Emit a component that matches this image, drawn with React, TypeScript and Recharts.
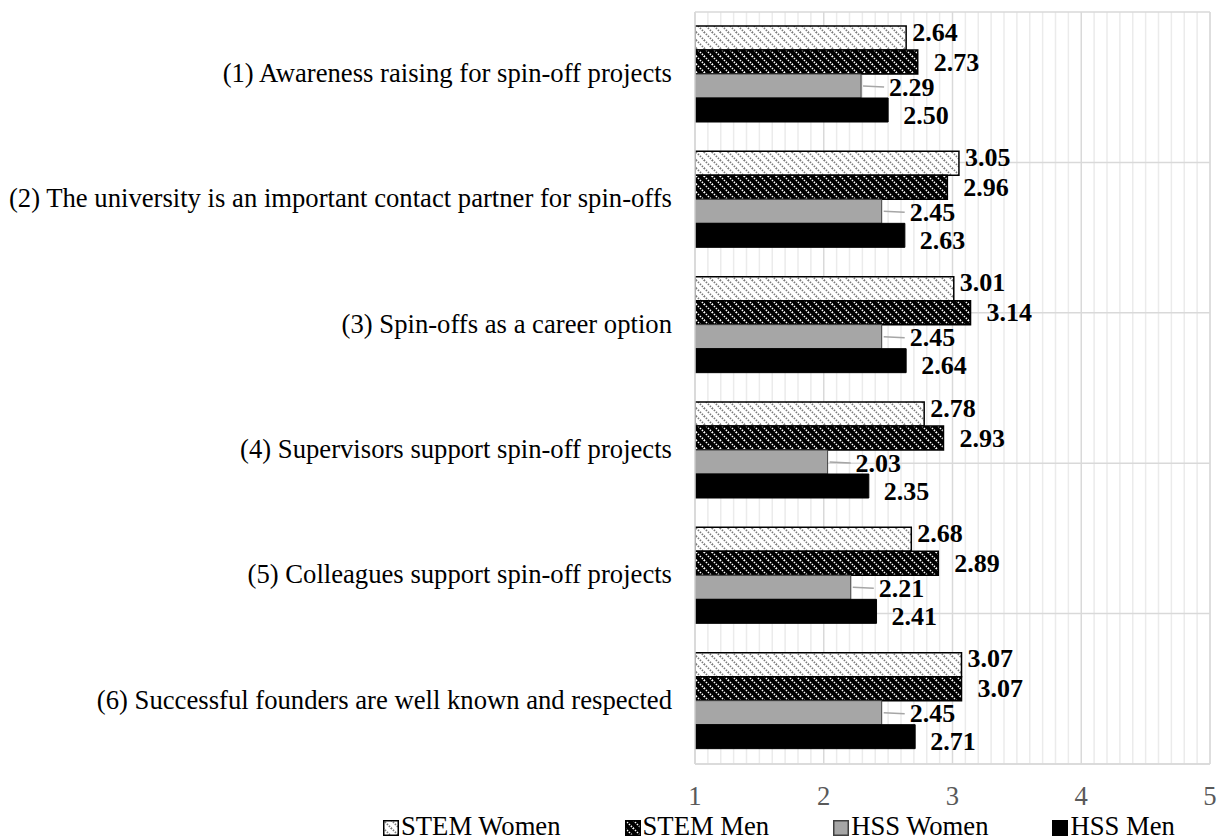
import React from "react";
import { BarChart, Bar, XAxis, YAxis, CartesianGrid, LabelList, Legend } from "recharts";

const categories = [
  "(1) Awareness raising for spin-off projects",
  "(2) The university is an important contact partner for spin-offs",
  "(3) Spin-offs as a career option",
  "(4) Supervisors support spin-off projects",
  "(5) Colleagues support spin-off projects",
  "(6) Successful founders are well known and respected",
];
const stemWomen = [2.64, 3.05, 3.01, 2.78, 2.68, 3.07];
const stemMen = [2.73, 2.96, 3.14, 2.93, 2.89, 3.07];
const hssWomen = [2.29, 2.45, 2.45, 2.03, 2.21, 2.45];
const hssMen = [2.5, 2.63, 2.64, 2.35, 2.41, 2.71];
const seriesNames = ["STEM Women", "STEM Men", "HSS Women", "HSS Men"];
const xTicks = [1, 2, 3, 4, 5];
const minorTicks: number[] = [];
for (let i = 10; i <= 50; i++) if (i % 10 !== 0) minorTicks.push(i / 10);
const bandTicks = [0, 1, 2, 3, 4, 5, 6];

const data = categories.map((name, i) => ({
  name,
  stemWomen: stemWomen[i],
  stemMen: stemMen[i],
  hssWomen: hssWomen[i],
  hssMen: hssMen[i],
}));

const FONT = "'Liberation Serif', 'Times New Roman', Tinos, serif";

const seriesStyles = [
  { key: "stemWomen", fill: "url(#patStemW)", stroke: "#000", sw: 1.5, dx: 6, dy: -6, leader: false },
  { key: "stemMen", fill: "url(#patStemM)", stroke: "#000", sw: 1.5, dx: 16, dy: 0, leader: false },
  { key: "hssWomen", fill: "#a6a6a6", stroke: "#404040", sw: 1, dx: 28, dy: 1, leader: true },
  { key: "hssMen", fill: "#000", stroke: "#000", sw: 1, dx: 15, dy: 5, leader: false },
];

const makeLabel = (dx: number, dy: number, leader: boolean) => (props: any) => {
  const { x, y, width, height, value } = props;
  const endX = Number(x) + Number(width);
  const cy = Number(y) + Number(height) / 2;
  const tx = endX + dx;
  return (
    <g>
      {leader && (
        <line x1={endX + 2} y1={cy} x2={tx - 5} y2={cy + dy} stroke="#a6a6a6" strokeWidth={1.5} />
      )}
      <text
        x={tx}
        y={cy + dy}
        dominantBaseline="central"
        fontFamily={FONT}
        fontWeight="bold"
        fontSize={26}
        fill="#000"
      >
        {Number(value).toFixed(2)}
      </text>
    </g>
  );
};

const renderLegend = () => (
  <div style={{ display: "flex", alignItems: "center", fontFamily: FONT, fontSize: 26.67, color: "#000", lineHeight: "28px" }}>
    {seriesStyles.map((s, i) => (
      <div key={s.key} style={{ display: "flex", alignItems: "center", marginRight: 64 }}>
        <svg width={16} height={16} style={{ marginRight: 2, marginTop: 4 }}>
          <rect x={0.75} y={0.75} width={14.5} height={14.5} fill={s.fill} stroke={s.stroke} strokeWidth={1.5} />
        </svg>
        <span style={{ whiteSpace: "nowrap" }}>{seriesNames[i]}</span>
      </div>
    ))}
  </div>
);

export default function App() {
  return (
    <div style={{ position: "relative", width: 1220, height: 839 }}>
      <style>{"body{margin:0;background:#fff}"}</style>
      <svg width={0} height={0} style={{ position: "absolute" }}>
        <defs>
          <pattern id="patStemW" width={8} height={8} patternUnits="userSpaceOnUse">
            <rect width={8} height={8} fill="#fff" />
            <line x1={0} y1={0} x2={8} y2={8} stroke="#7a7a7a" strokeWidth={1.8} strokeDasharray="1.4,1.4" />
            <line x1={-1} y1={7} x2={1} y2={9} stroke="#7a7a7a" strokeWidth={1.8} />
            <line x1={7} y1={-1} x2={9} y2={1} stroke="#7a7a7a" strokeWidth={1.8} />
          </pattern>
          <pattern id="patStemM" width={8} height={8} patternUnits="userSpaceOnUse">
            <rect width={8} height={8} fill="#000" />
            <line x1={0} y1={0} x2={8} y2={8} stroke="#fff" strokeWidth={1.6} strokeDasharray="1.4,1.4" />
            <line x1={-1} y1={7} x2={1} y2={9} stroke="#fff" strokeWidth={1.6} />
            <line x1={7} y1={-1} x2={9} y2={1} stroke="#fff" strokeWidth={1.6} />
          </pattern>
        </defs>
      </svg>
      <BarChart
        width={1220}
        height={839}
        data={data}
        layout="vertical"
        margin={{ top: 12, right: 10, bottom: 45, left: 0 }}
        barCategoryGap={14}
        barGap={0}
      >
        <XAxis
          type="number"
          domain={[1, 5]}
          ticks={xTicks}
          tickSize={0}
          tickMargin={22}
          height={30}
          axisLine={{ stroke: "#d9d9d9", strokeWidth: 1.5 }}
          tick={{ fontFamily: FONT, fontSize: 26.67, fill: "#595959" }}
          allowDataOverflow
        />
        <XAxis xAxisId="minor" type="number" domain={[1, 5]} ticks={minorTicks} interval={0} hide allowDataOverflow />
        <YAxis
          type="category"
          dataKey="name"
          width={695}
          tickSize={0}
          tickMargin={23}
          axisLine={{ stroke: "#d9d9d9", strokeWidth: 1.5 }}
          tick={{ fontFamily: FONT, fontSize: 26.67, fill: "#000", dy: -2 }}
          interval={0}
        />
        <YAxis yAxisId="band" type="number" domain={[0, 6]} ticks={bandTicks} interval={0} hide allowDataOverflow />
        <CartesianGrid xAxisId="minor" horizontal={false} stroke="#ebebeb" strokeWidth={1.5} />
        <CartesianGrid horizontal={false} stroke="#d9d9d9" strokeWidth={1.5} />
        <CartesianGrid yAxisId="band" vertical={false} stroke="#d9d9d9" strokeWidth={1.5} />
        {seriesStyles.map((s, i) => (
          <Bar
            key={s.key}
            dataKey={s.key}
            name={seriesNames[i]}
            fill={s.fill}
            stroke={s.stroke}
            strokeWidth={s.sw}
            isAnimationActive={false}
          >
            <LabelList dataKey={s.key} content={makeLabel(s.dx, s.dy, s.leader)} />
          </Bar>
        ))}
        <Legend
          layout="horizontal"
          verticalAlign="middle"
          align="center"
          content={renderLegend}
          wrapperStyle={{ left: 383, top: 812, width: 900 }}
        />
      </BarChart>
    </div>
  );
}
